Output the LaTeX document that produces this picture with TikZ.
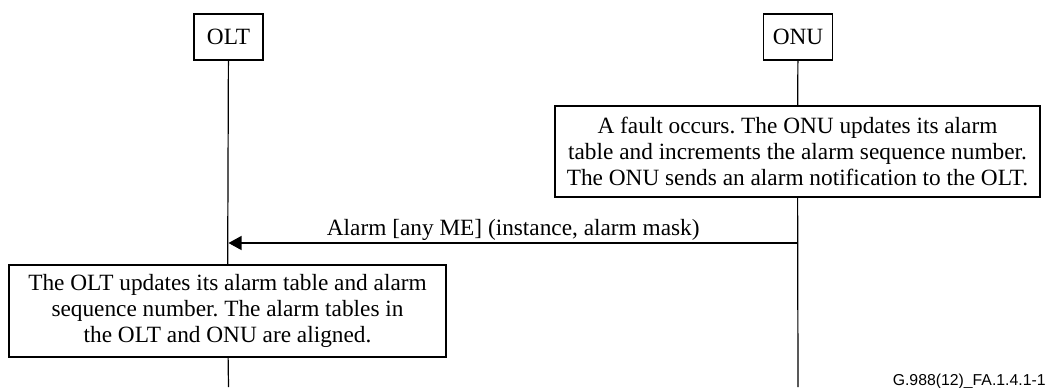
\documentclass[tikz,border=0pt]{standalone}
\usepackage{fontspec}
\setmainfont{Liberation Serif}
\newfontfamily\figidfont{Liberation Sans}
\usetikzlibrary{arrows.meta}
\usetikzlibrary{positioning}
\frenchspacing

\tikzset{
  entity/.style={draw,line width=0.6pt,minimum width=34.5pt,minimum height=23pt,inner sep=0pt},
  note/.style={draw,line width=0.6pt,align=center,inner sep=0pt},
  lifeline/.style={line width=0.6pt},
  msg/.style={line width=0.6pt,-{Triangle[length=6.5pt,width=7pt]}},
}

\begin{document}
\begin{tikzpicture}[x=0.5pt,y=-0.5pt,font=\fontsize{11.65}{12.9}\selectfont]
\useasboundingbox (0,0) rectangle (1048,387);
% the two parties
\node[entity] (olt) at (228.5,37) {OLT};
\node[entity] (onu) at (798,37) {ONU};
% what happens at the ONU
\node[note,minimum width=242.5pt,minimum height=45.5pt] (fault) at (797.5,151.5)
  {A fault occurs. The ONU updates its alarm\\
   table and increments the alarm sequence number.\\
   The ONU sends an alarm notification to the OLT.};
% what happens at the OLT
\node[note,minimum width=218.5pt,minimum height=46pt] (update) at (227.5,311)
  {The OLT updates its alarm table and alarm\\
   sequence number. The alarm tables in\\
   the OLT and ONU are aligned.};
\coordinate (oltend) at (228.5,387);
\coordinate (onuend) at (798,387);
\coordinate (onusend) at (798,243);
\coordinate (oltrecv) at (228.5,243);
\draw[lifeline] (olt) -- (update);
\draw[lifeline] (update) -- (oltend);
\draw[lifeline] (onu) -- (fault);
\draw[lifeline] (fault) -- (onuend);
\draw[msg] (onusend) -- (oltrecv) node[midway,above,inner sep=1pt] (alarm) {Alarm [any ME] (instance, alarm mask)};
\node[anchor=base east,inner sep=0pt,font=\figidfont\fontsize{7.9}{9}\selectfont] (figid) at (1046,385) {G.988(12)\_FA.1.4.1-1};
\end{tikzpicture}
\end{document}
